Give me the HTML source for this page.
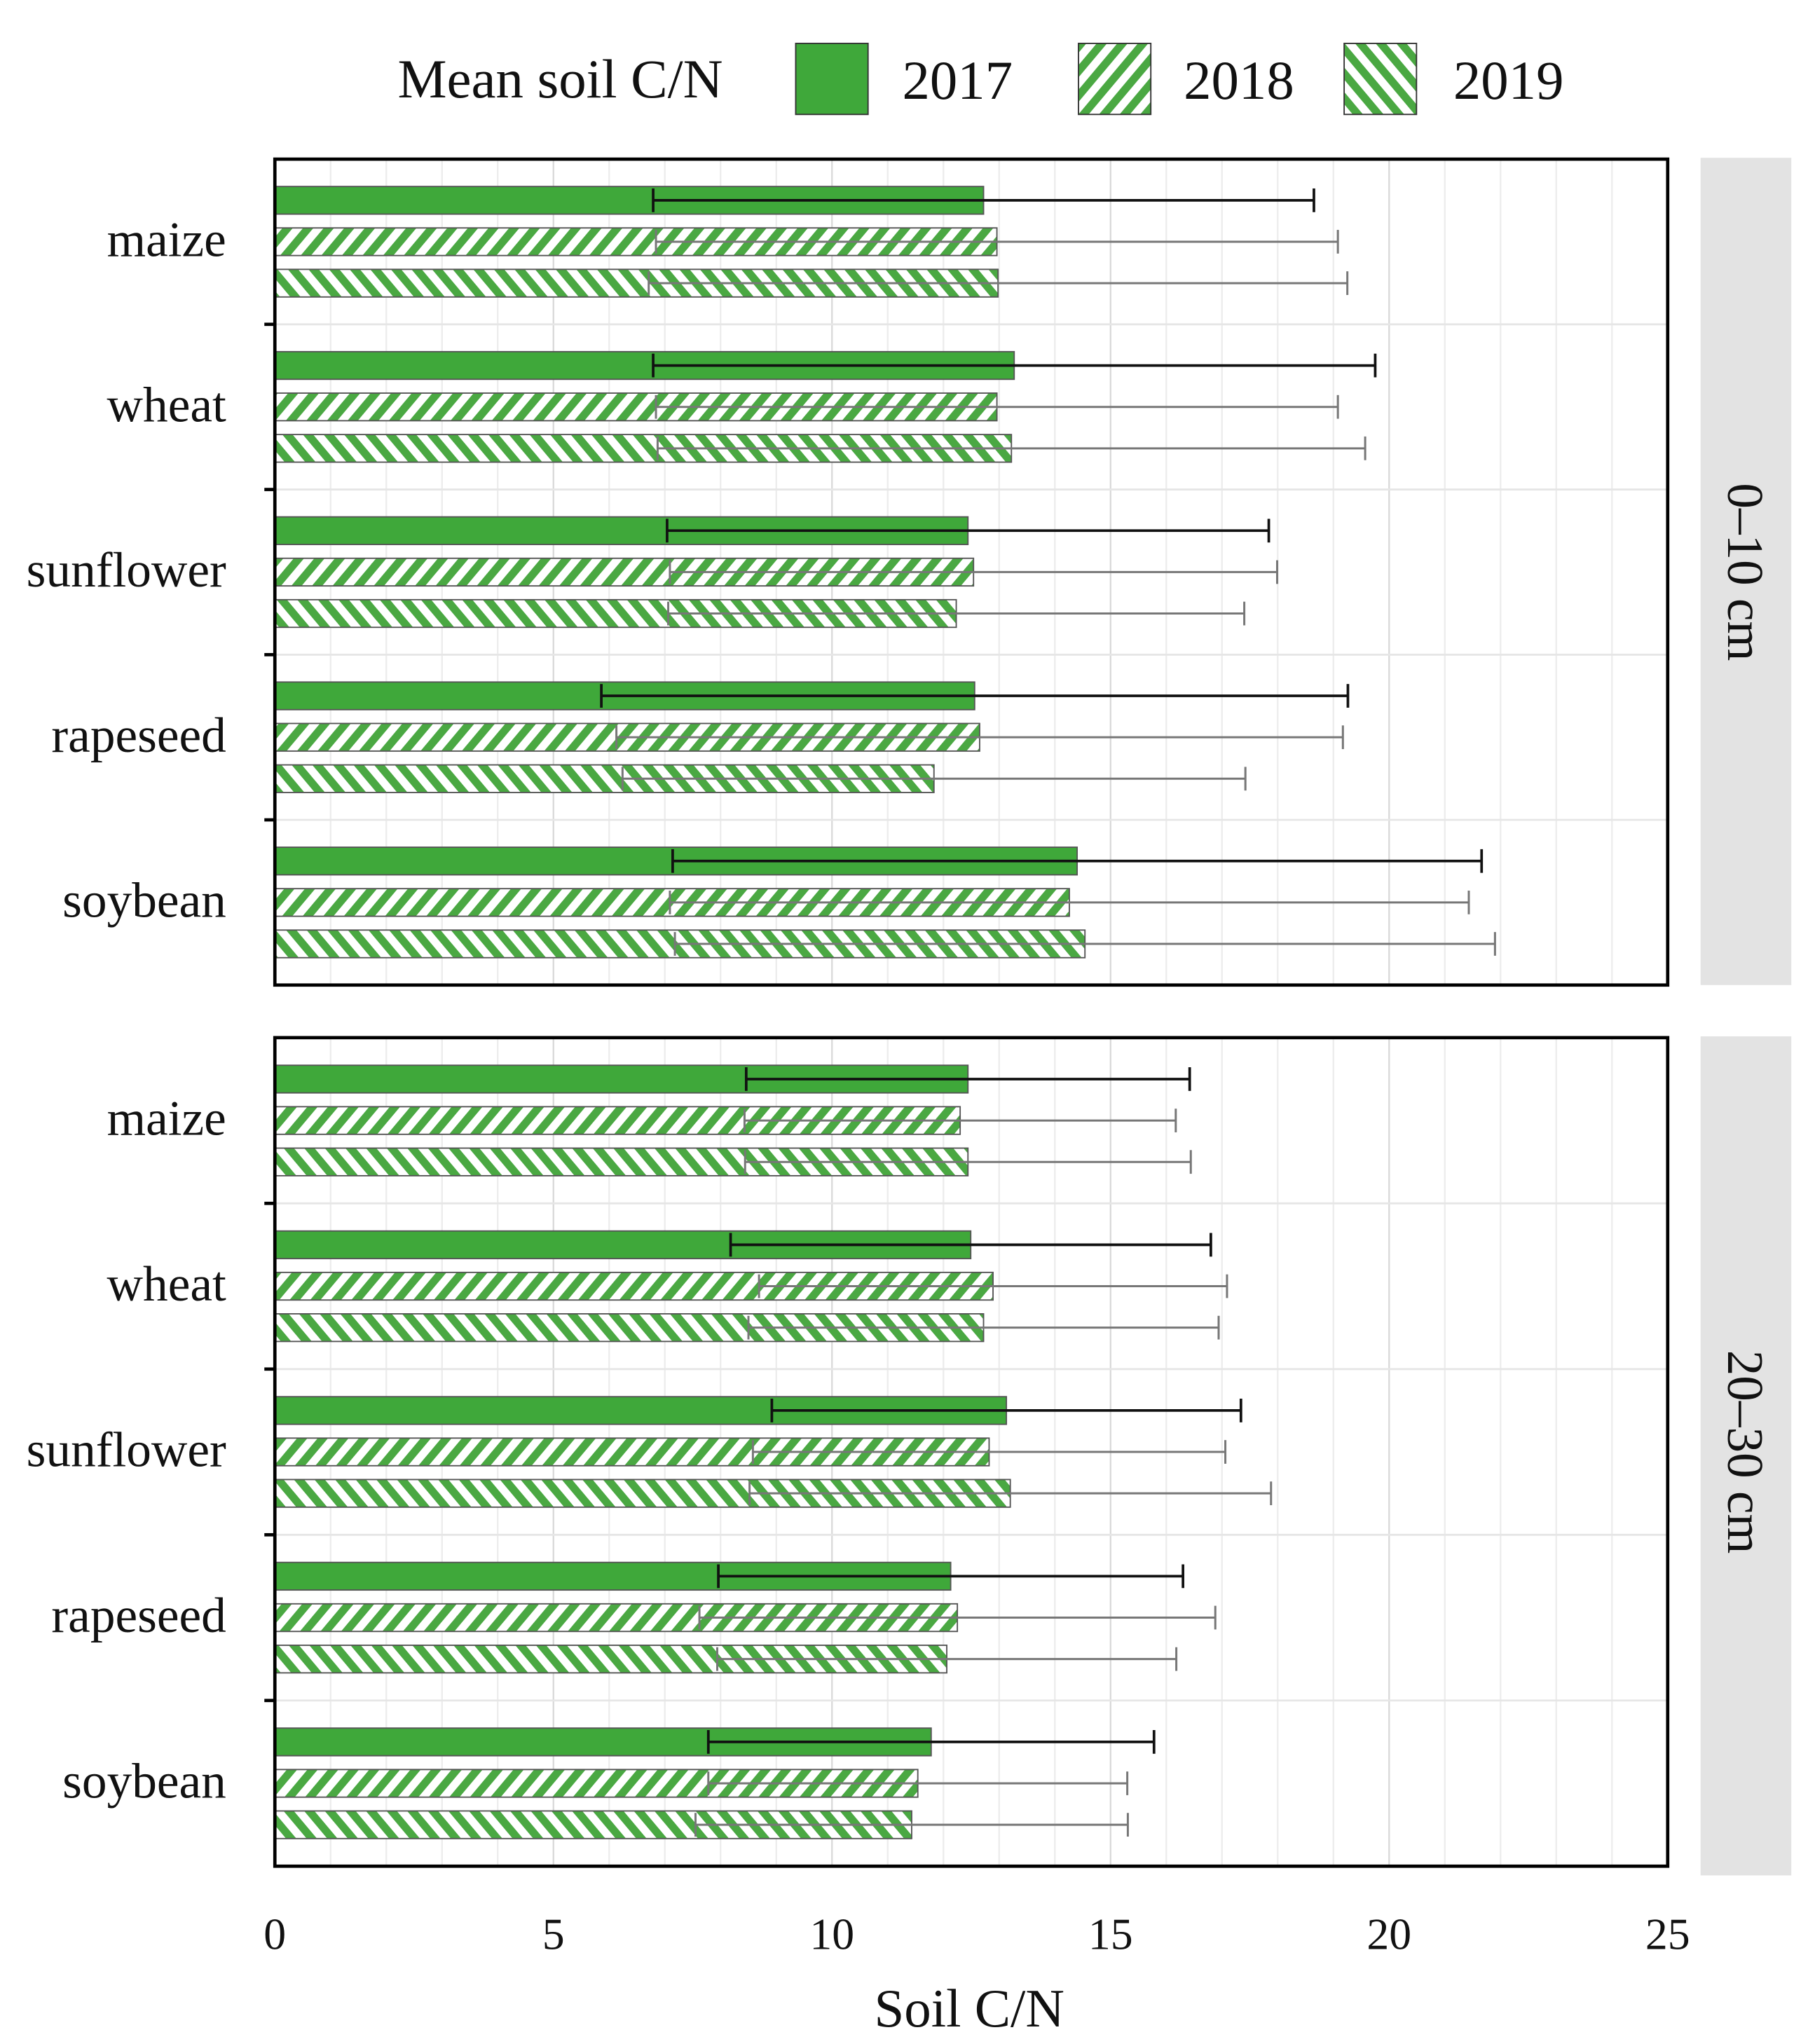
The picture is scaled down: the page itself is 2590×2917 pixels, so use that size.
<!DOCTYPE html>
<html><head><meta charset="utf-8"><style>
html,body{margin:0;padding:0;background:#fff;}
svg{display:block;}
text{font-family:"Liberation Serif",serif;fill:#111;}
</style></head><body>
<svg id="chart" width="2590" height="2917" viewBox="0 0 1380 1554.2" preserveAspectRatio="none" xmlns="http://www.w3.org/2000/svg">
<defs>
<pattern id="p2018" patternUnits="userSpaceOnUse" width="12" height="12" patternTransform="rotate(40)">
<rect width="12" height="12" fill="#fff"/><rect width="6" height="12" fill="#4aa842"/></pattern>
<pattern id="p2019" patternUnits="userSpaceOnUse" width="12" height="12" patternTransform="rotate(-40)">
<rect width="12" height="12" fill="#fff"/><rect width="6" height="12" fill="#4aa842"/></pattern>
</defs>
<g id="legend">
<text x="426" y="74" font-size="42" text-anchor="middle">Mean soil C/N</text>
<rect x="605" y="33" width="55" height="54" fill="#3fa83a" stroke="#333" stroke-width="1"/>
<text x="686" y="75" font-size="42">2017</text>
<rect x="820" y="33" width="55" height="54" fill="url(#p2018)" stroke="#333" stroke-width="1"/>
<text x="900" y="75" font-size="42">2018</text>
<rect x="1022" y="33" width="55" height="54" fill="url(#p2019)" stroke="#333" stroke-width="1"/>
<text x="1105" y="75" font-size="42">2019</text>
</g>
<g id="plots"></g>
<text x="737" y="1541" font-size="41" text-anchor="middle">Soil C/N</text>
</svg>
<script>
const categories = ["maize","wheat","sunflower","rapeseed","soybean"];
const years = ["2017","2018","2019"];
const depths = ["0\u201310 cm","20\u201330 cm"];
const meanTop = [[12.72,12.96,12.98],[13.27,12.96,13.22],[12.44,12.54,12.23],[12.56,12.65,11.83],[14.40,14.26,14.54]];
const sdTop   = [[5.93,6.12,6.27],[6.48,6.12,6.35],[5.40,5.45,5.17],[6.70,6.52,5.59],[7.26,7.17,7.36]];
const meanBot = [[12.44,12.30,12.44],[12.49,12.89,12.72],[13.13,12.82,13.20],[12.13,12.25,12.06],[11.78,11.54,11.43]];
const sdBot   = [[3.98,3.87,4.00],[4.31,4.20,4.22],[4.21,4.24,4.68],[4.17,4.63,4.12],[4.00,3.76,3.88]];
const xTicks = [0,5,10,15,20,25];

const NS="http://www.w3.org/2000/svg";
const root=document.getElementById('plots');
function mk(tag,attrs,parent){const e=document.createElementNS(NS,tag);for(const k in attrs)e.setAttribute(k,attrs[k]);(parent||root).appendChild(e);return e;}
const X0=209,X1=1268;
function xs(v){return X0+(v/25)*(X1-X0);}
const panels=[{top:121,bot:749,means:meanTop,sds:sdTop},{top:789,bot:1419,means:meanBot,sds:sdBot}];
const fills=["#3fa83a","url(#p2018)","url(#p2019)"];

panels.forEach((p,pi)=>{
  const g=mk('g',{});
  
  
  const st=mk('rect',{x:1293,y:p.top-1,width:69,height:p.bot-p.top+(pi?8:1),fill:'#e3e3e3'},g);
  
  
  const cy=(p.top+p.bot)/2;
  const stt=mk('text',{x:1327,y:cy,'font-size':39,'text-anchor':'middle',transform:`rotate(90 1327 ${cy})`,'dominant-baseline':'central'},g);
  stt.textContent=depths[pi];
  
  
  for(let v=1;v<25;v++){
    const l=mk('line',{x1:xs(v),x2:xs(v),y1:p.top,y2:p.bot,stroke:v%5===0?'#d8d8d8':'#ececec','stroke-width':1.2},g);
    
    
  }
  const band=(p.bot-p.top)/categories.length;
  for(let c=1;c<categories.length;c++){
    const y=p.top+band*c;
    const l=mk('line',{x1:X0,x2:X1,y1:y,y2:y,stroke:'#e6e6e6','stroke-width':1.5},g);
    
    
    const t=mk('line',{x1:X0-8,x2:X0,y1:y,y2:y,stroke:'#000','stroke-width':2.5},g);
    
    
  }
  categories.forEach((cat,ci)=>{
    const gc=p.top+band*(ci+0.5);
    const lab=mk('text',{x:172,y:gc+11,'font-size':38,'text-anchor':'end'},g);
    lab.textContent=cat;
    
    
    years.forEach((yr,yi)=>{
      const by=gc+(yi-1)*31.5;
      const m=p.means[ci][yi], sd=p.sds[ci][yi];
      const r=mk('rect',{x:X0,y:by-10.5,width:xs(m)-X0,height:21,fill:fills[yi],stroke:'#555','stroke-width':1},g);
      
      
      const col=yi===0?'#111':'#777', w=yi===0?2:1.6;
      const e=mk('line',{x1:xs(m-sd),x2:xs(m+sd),y1:by,y2:by,stroke:col,'stroke-width':w},g);
      
      
      [m-sd,m+sd].forEach(v=>{
        const c=mk('line',{x1:xs(v),x2:xs(v),y1:by-9,y2:by+9,stroke:col,'stroke-width':w},g);
        
        
      });
    });
  });
  const fr=mk('rect',{x:X0,y:p.top,width:X1-X0,height:p.bot-p.top,fill:'none',stroke:'#000','stroke-width':2.5},g);
  
  
});
xTicks.forEach(v=>{
  const t=mk('text',{x:xs(v),y:1482,'font-size':34,'text-anchor':'middle'});
  t.textContent=v;
  
  
});
</script>
</body></html>
